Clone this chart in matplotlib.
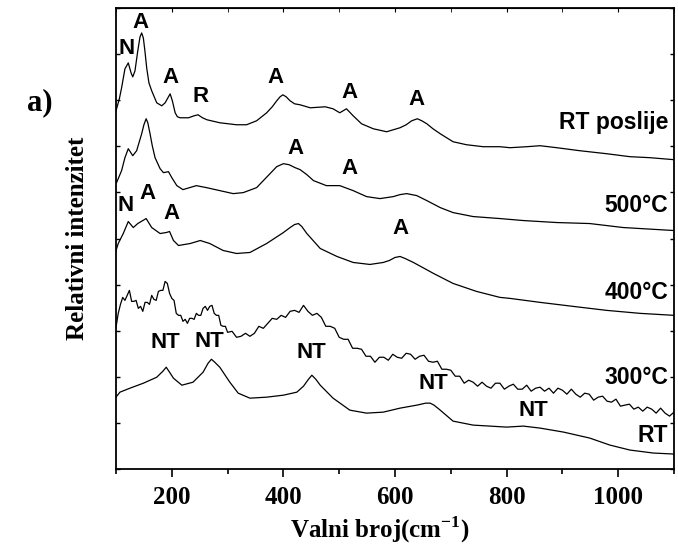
import matplotlib
matplotlib.use("Agg")
import matplotlib.pyplot as plt
from matplotlib.ticker import MultipleLocator, NullFormatter

plt.rcParams["mathtext.fontset"] = "custom"
plt.rcParams["mathtext.rm"] = "Liberation Serif"
plt.rcParams["mathtext.bf"] = "Liberation Serif:bold"

# Raman spectra (x in cm^-1, y in arbitrary stacked units)
rt_after_x = [100, 106, 110, 116, 122, 127, 130, 134, 139, 143, 146, 149, 152, 155, 159, 164, 173,
              182, 188, 193, 197, 201, 206, 210, 215, 230, 240, 247, 255, 263, 286, 316, 334, 352,
              370, 380, 388, 394, 399, 405, 412, 420, 430, 448, 475, 489, 501, 513, 525, 540, 561,
              585, 609, 620, 630, 640, 648, 657, 668, 681, 704, 728, 758, 788, 806, 836, 860, 890,
              931, 979, 1021, 1057, 1100]
rt_after_y = [359, 371, 382, 401, 407, 397, 393, 399, 419, 433, 437, 432, 418, 402, 387, 379, 367,
              364, 367, 372, 376, 369, 357, 353, 352, 352, 354, 355, 352, 350, 347, 345, 345, 349,
              357, 363, 369, 373, 375, 373, 369, 366, 365, 362, 363, 361, 357, 361, 354, 346, 341,
              338, 342, 345, 349, 351, 349, 346, 341, 336, 328, 325, 323, 323, 322, 323, 324, 322,
              319, 316, 313, 312, 310]

t500_x = [101, 110, 116, 122, 130, 137, 146, 150, 154, 157, 161, 165, 170, 179, 185, 194, 200, 209,
          220, 244, 262, 286, 310, 328, 352, 376, 388, 400, 410, 421, 430, 442, 454, 477, 501, 525,
          549, 573, 597, 609, 621, 630, 639, 657, 681, 704, 740, 788, 830, 890, 949, 1009, 1100]
t500_y = [287, 299, 312, 321, 314, 319, 336, 345, 351, 347, 336, 324, 312, 301, 297, 298, 292, 284,
          280, 284, 282, 279, 276, 277, 282, 296, 303, 306, 305, 302, 300, 295, 289, 284, 284, 279,
          273, 271, 273, 275, 276, 275, 274, 269, 262, 257, 253, 251, 249, 247, 246, 242, 239]

t400_x = [100, 104, 113, 122, 131, 139, 148, 154, 164, 179, 190, 196, 203, 212, 233, 251, 268, 292,
          316, 340, 370, 400, 412, 420, 427, 433, 442, 466, 496, 525, 555, 579, 590, 600, 609, 618,
          633, 669, 704, 746, 788, 806, 860, 919, 979, 1039, 1100]
t400_y = [219, 226, 236, 248, 242, 246, 249, 251, 242, 236, 237, 238, 229, 224, 226, 229, 226, 219,
          216, 217, 226, 237, 242, 245, 246, 243, 236, 221, 213, 207, 205, 207, 209, 212, 213, 211,
          207, 196, 186, 178, 172, 171, 167, 163, 159, 156, 154]

t300_x = [100, 104, 108, 112, 116, 120, 124, 128, 132, 136, 140, 144, 148, 152, 156, 160, 164, 168,
          172, 176, 180, 184, 188, 192, 196, 200, 204, 208, 212, 216, 220, 224, 228, 232, 236, 240,
          244, 248, 252, 256, 260, 264, 268, 272, 276, 280, 284, 288, 292, 296, 300,
          308, 316, 324, 332, 340, 348, 356, 364, 372, 380, 388, 396, 404, 412, 420, 428, 436, 444,
          452, 460, 468, 476, 484, 492, 500, 508, 516, 524, 532, 540, 548, 556, 564, 572, 580, 588,
          596, 604, 612, 620, 628, 636, 644, 652, 660, 668, 676, 684, 692, 700, 708, 716, 724, 732,
          740, 748, 756, 764, 772, 780, 788, 796, 804, 812, 820, 828, 836, 844, 852, 860, 868, 876,
          884, 892, 900, 908, 916, 924, 932, 940, 948, 956, 964, 972, 980, 988, 996, 1004, 1012,
          1020, 1028, 1036, 1044, 1052, 1060, 1068, 1076, 1084, 1092, 1100]
t300_y = [142, 156, 165, 172, 169, 174, 179, 168, 168, 169, 161, 163, 158, 167, 167, 165, 174, 170,
          169, 178, 179, 179, 188, 186, 176, 171, 169, 156, 154, 154, 148, 150, 146, 151, 151, 150,
          156, 154, 154, 161, 163, 159, 163, 164, 156, 154, 154, 144, 143, 143, 137,
          138, 132, 133, 136, 133, 136, 143, 141, 146, 151, 150, 154, 152, 158, 159, 157, 164, 158,
          154, 156, 152, 143, 143, 141, 132, 130, 130, 121, 121, 120, 113, 113, 107, 112, 112, 109,
          115, 112, 111, 116, 115, 110, 113, 114, 108, 107, 108, 100, 100, 99, 93, 93, 86, 89,
          87, 83, 87, 83, 81, 86, 86, 80, 83, 85, 80, 80, 84, 78, 81, 82, 78, 81,
          76, 81, 79, 75, 80, 75, 72, 76, 75, 69, 72, 73, 68, 67, 70, 63, 64,
          65, 60, 62, 58, 62, 60, 56, 61, 56, 53, 57]

rt_x = [100, 107, 125, 149, 173, 184, 190, 196, 203, 218, 238, 256, 265, 271, 277, 286, 304, 319,
        340, 370, 400, 424, 436, 445, 451, 458, 466, 489, 519, 549, 579, 609, 639, 655, 663, 670,
        681, 704, 740, 770, 800, 830, 860, 902, 949, 985, 1021, 1063, 1100]
rt_y = [72, 77, 81, 86, 92, 98, 102, 97, 91, 84, 87, 97, 106, 110, 107, 102, 87, 76,
        71, 72, 74, 77, 83, 90, 94, 90, 84, 71, 59, 56, 57, 61, 64, 66, 66, 64,
        59, 48, 44, 43, 42, 43, 41, 37, 31, 24, 19, 16, 15]

spectra = [(rt_after_x, rt_after_y), (t500_x, t500_y), (t400_x, t400_y),
           (t300_x, t300_y), (rt_x, rt_y)]

# band labels: (text, x, y)
band_labels = [("N", 119, 421), ("A", 144, 447), ("A", 197, 392), ("R", 252, 373),
               ("A", 385, 392), ("A", 519, 377), ("A", 639, 370),
               ("A", 421, 321), ("A", 519, 301),
               ("N", 118, 264), ("A", 156, 276), ("A", 199, 256), ("A", 609, 241),
               ("NT", 188, 127), ("NT", 268, 128), ("NT", 451, 117), ("NT", 668, 86),
               ("NT", 848, 59)]
curve_names = ["RT poslije", "500°C", "400°C", "300°C", "RT"]
curve_name_y = [347, 264, 177, 92, 34]

SANS = "Liberation Sans"
SERIF = "Liberation Serif"

fig = plt.figure(figsize=(6.78, 5.49), dpi=100)
ax = fig.add_axes([0.1711, 0.1457, 0.8230, 0.8397])

for x, y in spectra:
    ax.plot(x, y, color="black", lw=0.9)

for txt, x, y in band_labels:
    ax.text(x, y, txt, ha="center", va="center", fontsize=16,
            fontweight="bold", family=SANS)
for name, y in zip(curve_names, curve_name_y):
    ax.text(1090, y, name, ha="right", va="center", fontsize=16.5,
            fontweight="bold", family=SANS)

ax.set_xlim(100, 1100)
ax.set_ylim(0, 462)
ax.xaxis.set_major_locator(MultipleLocator(200))
ax.xaxis.set_minor_locator(MultipleLocator(100))
ax.yaxis.set_major_locator(MultipleLocator(46.2))
ax.yaxis.set_major_formatter(NullFormatter())

ax.tick_params(axis="x", which="major", direction="out", length=6, width=1.2, pad=6,
               labelsize=18)
ax.tick_params(axis="x", which="minor", direction="out", length=3.5, width=1.2)
ax.tick_params(axis="y", which="major", direction="in", length=3, width=1.0,
               left=True, right=True)
for lab in ax.get_xticklabels():
    lab.set_fontweight("bold")
    lab.set_family(SERIF)
for sp in ax.spines.values():
    sp.set_linewidth(1.3)

# top axis ticks (inward, no labels)
sec = ax.secondary_xaxis("top")
sec.xaxis.set_major_locator(MultipleLocator(200))
sec.xaxis.set_minor_locator(MultipleLocator(100))
sec.tick_params(which="both", direction="in", length=3, labeltop=False)

ax.set_xlabel("Valni broj(cm$^{\\mathbf{-1}}$)", fontsize=18, fontweight="bold",
              family=SERIF, labelpad=4)
ax.xaxis.label.set_x(0.473)
ax.set_ylabel("Relativni intenzitet", fontsize=18, fontweight="bold", family=SERIF,
              labelpad=16)
fig.text(0.059, 0.812, "a)", fontsize=22, fontweight="bold", family=SERIF,
         ha="center", va="center")

fig.savefig("out.png", dpi=100)
